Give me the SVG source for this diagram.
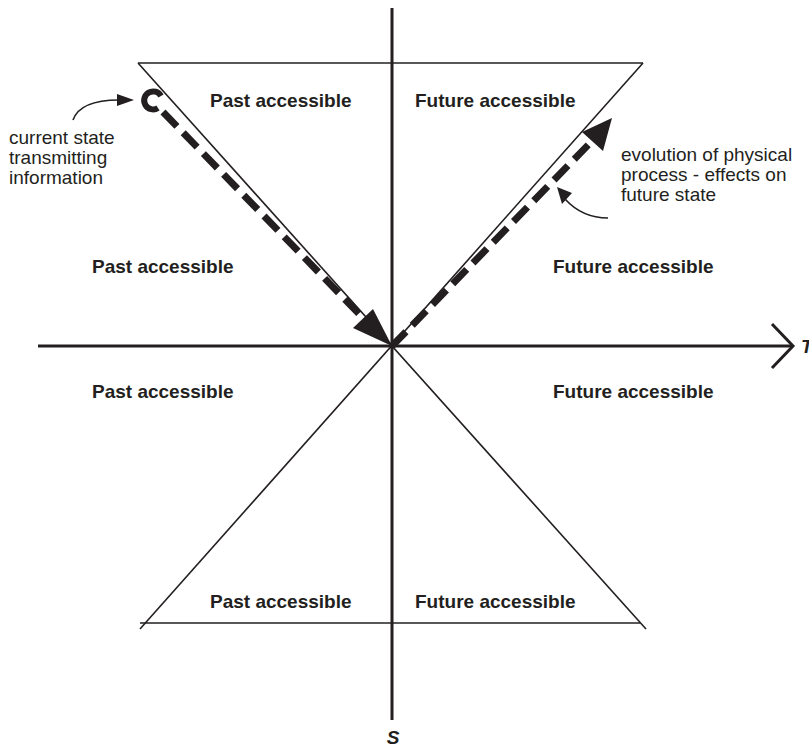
<svg xmlns="http://www.w3.org/2000/svg" width="809" height="747" viewBox="0 0 809 747">
  <defs>
    <style>
      .bg { fill: #ffffff; }
      .axis { stroke: #231f20; stroke-width: 3; fill: none; }
      .thin { stroke: #231f20; stroke-width: 1.6; fill: none; }
      .dash { stroke: #231f20; stroke-width: 7; fill: none; stroke-dasharray: 20 9; }
      .head { fill: #231f20; stroke: none; }
      .ptr { stroke: #231f20; stroke-width: 1.6; fill: none; }
      .region { font-family: "Liberation Sans", Arial, sans-serif; font-size: 19px; font-weight: bold; fill: #231f20; }
      .note { font-family: "Liberation Sans", Arial, sans-serif; font-size: 19px; fill: #231f20; }
      .axlabel { font-family: "Liberation Sans", Arial, sans-serif; font-size: 19px; font-weight: bold; font-style: italic; fill: #231f20; }
    </style>
  </defs>
  <rect class="bg" x="0" y="0" width="809" height="747"/>

  <!-- light-cone outline and the two axes -->
  <g id="frame">
    <line class="thin" x1="138" y1="63" x2="643" y2="63"/>
    <line class="thin" x1="140" y1="623" x2="640" y2="623"/>
    <line class="thin" x1="138" y1="63" x2="646" y2="629"/>
    <line class="thin" x1="643" y1="63" x2="140" y2="629"/>
    <line class="axis" x1="392" y1="8" x2="392" y2="720"/>
    <line class="axis" x1="38" y1="346" x2="792" y2="346"/>
    <polyline class="axis" points="772,324 793,346 772,368"/>
    <text class="axlabel" x="801" y="353">T</text>
    <text class="axlabel" x="393" y="744" text-anchor="middle">S</text>
  </g>

  <!-- region labels -->
  <g id="past-top"><text class="region" x="210" y="107">Past accessible</text></g>
  <g id="future-top"><text class="region" x="415" y="107">Future accessible</text></g>
  <g id="past-upper"><text class="region" x="92" y="273">Past accessible</text></g>
  <g id="future-upper"><text class="region" x="553" y="273">Future accessible</text></g>
  <g id="past-lower"><text class="region" x="92" y="398">Past accessible</text></g>
  <g id="future-lower"><text class="region" x="553" y="398">Future accessible</text></g>
  <g id="past-bottom"><text class="region" x="210" y="608">Past accessible</text></g>
  <g id="future-bottom"><text class="region" x="415" y="608">Future accessible</text></g>

  <!-- current state marker -->
  <g id="current-state">
    <path d="M161,96 A9,9 0 1 0 158,108" stroke="#231f20" stroke-width="6" fill="none"/>
    <text class="note" x="9" y="144">current state</text>
    <text class="note" x="9" y="164">transmitting</text>
    <text class="note" x="9" y="184">information</text>
  </g>

  <!-- evolution note -->
  <g id="evolution">
    <text class="note" x="621" y="161">evolution of physical</text>
    <text class="note" x="621" y="181">process - effects on</text>
    <text class="note" x="621" y="201">future state</text>
  </g>

  <!-- connectors -->
  <g id="connectors">
    <!-- information travels from the current state to the origin -->
    <line class="dash" x1="163" y1="112" x2="365" y2="320"/>
    <polygon class="head" points="392,346 353,328 373,309"/>
    <!-- evolution from the origin towards the future -->
    <line class="dash" x1="392" y1="346" x2="592" y2="141"/>
    <polygon class="head" points="612,118 582,132 603,151"/>
    <!-- pointer to the current state -->
    <path class="ptr" d="M73,120 C78,106 95,100 119,100"/>
    <polygon class="head" points="134,100 117,94 117,106"/>
    <!-- pointer to the evolution line -->
    <path class="ptr" d="M608,218 C590,218 575,210 565,199"/>
    <polygon class="head" points="557,187 572,193 562,204"/>
  </g>
</svg>
